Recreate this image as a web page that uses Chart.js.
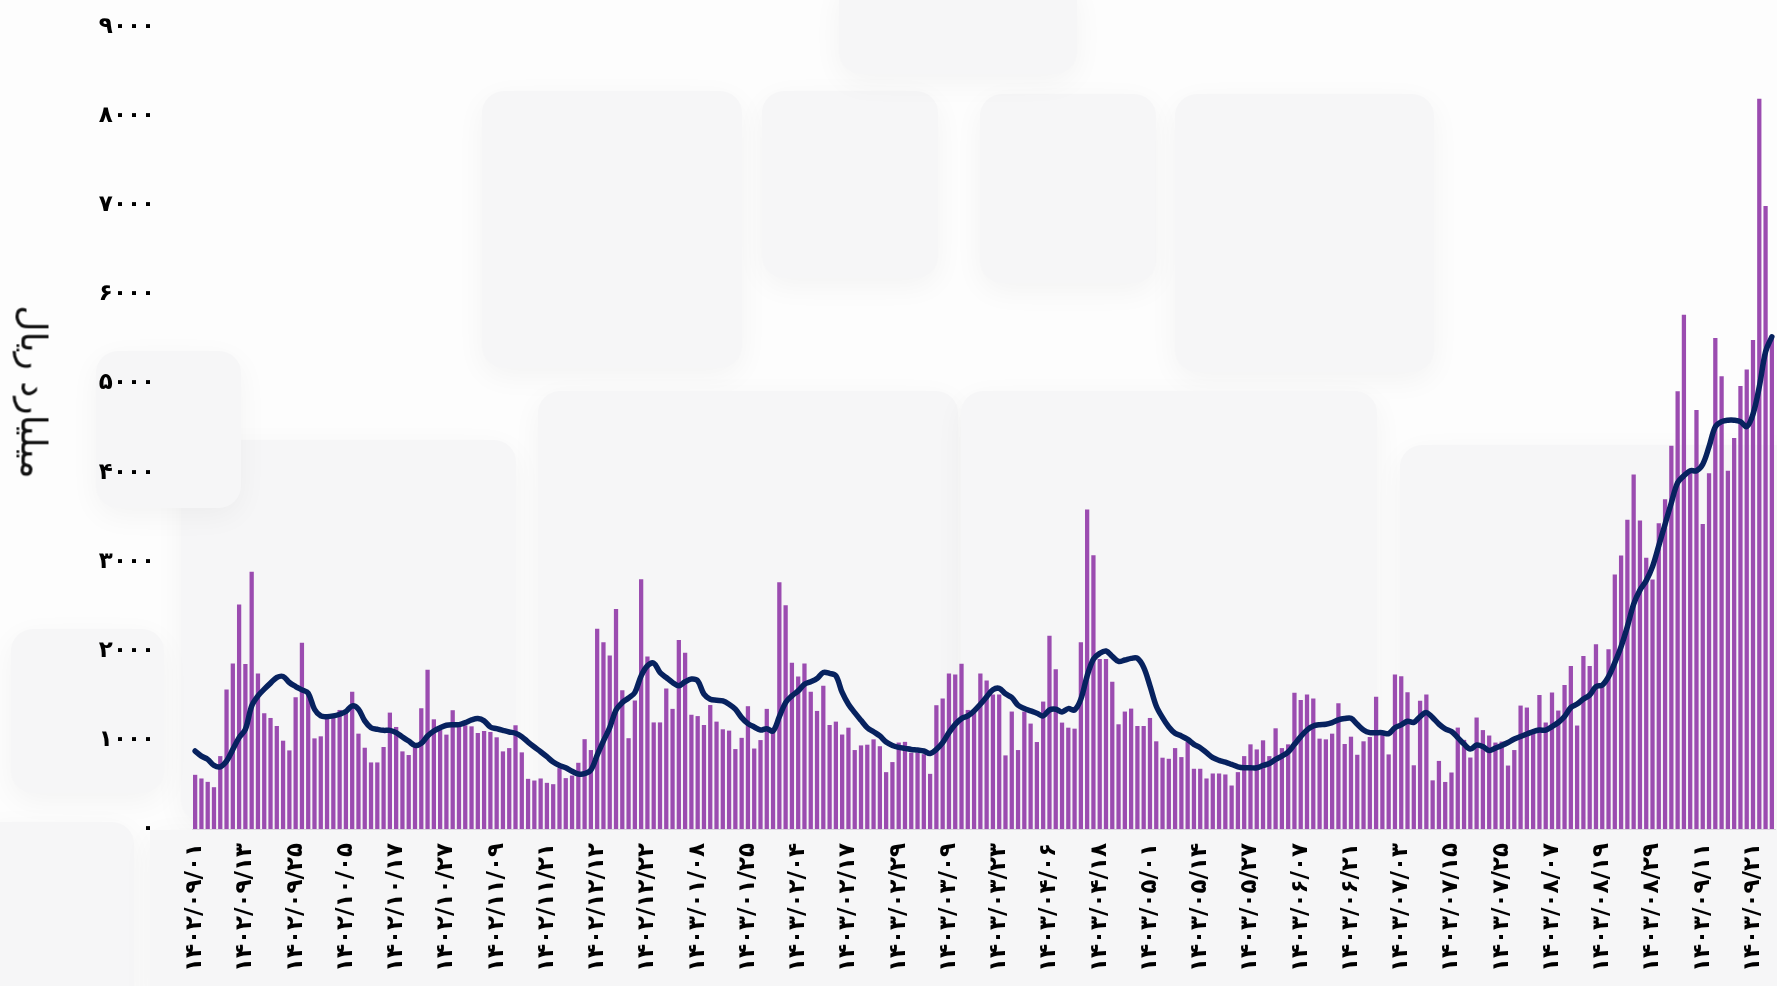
<!DOCTYPE html>
<html lang="fa">
<head>
<meta charset="utf-8">
<title>chart</title>
<script src="https://cdn.jsdelivr.net/npm/chart.js@4.4.1/dist/chart.umd.min.js"></script>
<style>
  html, body { margin: 0; padding: 0; background: #fff; overflow: hidden; }
  #wrap { position: relative; width: 1777px; height: 986px; overflow: hidden; background: #fdfdfd; }
  .box { position: absolute; background: #f6f6f7; border-radius: 22px; box-shadow: 0 8px 30px rgba(0,0,0,0.045); }
  #chartBox { position: absolute; left: 0; top: 0; width: 1777px; height: 986px; }
  #yTitle { position: absolute; left: 34px; top: 392px; transform: translate(-50%, -50%) rotate(90deg);
            font-family: "DejaVu Sans", sans-serif; font-size: 36px; white-space: nowrap; color: #111; direction: rtl; }
</style>
</head>
<body>
<div id="wrap">
  <div class="box" style="left:482px;top:91px;width:260px;height:277px"></div>
  <div class="box" style="left:762px;top:91px;width:176px;height:187px"></div>
  <div class="box" style="left:980px;top:94px;width:176px;height:189px"></div>
  <div class="box" style="left:1175px;top:94px;width:259px;height:278px"></div>
  <div class="box" style="left:839px;top:-20px;width:238px;height:94px"></div>
  <div class="box" style="left:538px;top:391px;width:420px;height:460px"></div>
  <div class="box" style="left:961px;top:391px;width:416px;height:460px"></div>
  <div class="box" style="left:181px;top:440px;width:335px;height:382px"></div>
  <div class="box" style="left:1400px;top:445px;width:400px;height:371px"></div>
  <div class="box" style="left:96px;top:351px;width:145px;height:157px"></div>
  <div class="box" style="left:11px;top:629px;width:153px;height:164px"></div>
  <div class="box" style="left:-20px;top:822px;width:154px;height:190px"></div>
  <div class="box" style="left:150px;top:830px;width:1650px;height:180px;border-radius:0"></div>
  <div id="chartBox"><canvas id="myChart"></canvas></div>
  <div id="yTitle">میلیارد ریال</div>
</div>
<script>
const tickLabels = ['۱۴۰۲/۰۹/۰۱','۱۴۰۲/۰۹/۱۳','۱۴۰۲/۰۹/۲۵','۱۴۰۲/۱۰/۰۵','۱۴۰۲/۱۰/۱۷','۱۴۰۲/۱۰/۲۷',
  '۱۴۰۲/۱۱/۰۹','۱۴۰۲/۱۱/۲۱','۱۴۰۲/۱۲/۱۲','۱۴۰۲/۱۲/۲۲','۱۴۰۳/۰۱/۰۸','۱۴۰۳/۰۱/۲۵',
  '۱۴۰۳/۰۲/۰۴','۱۴۰۳/۰۲/۱۷','۱۴۰۳/۰۲/۲۹','۱۴۰۳/۰۳/۰۹','۱۴۰۳/۰۳/۲۳','۱۴۰۳/۰۴/۰۶',
  '۱۴۰۳/۰۴/۱۸','۱۴۰۳/۰۵/۰۱','۱۴۰۳/۰۵/۱۴','۱۴۰۳/۰۵/۲۷','۱۴۰۳/۰۶/۰۷','۱۴۰۳/۰۶/۲۱',
  '۱۴۰۳/۰۷/۰۳','۱۴۰۳/۰۷/۱۵','۱۴۰۳/۰۷/۲۵','۱۴۰۳/۰۸/۰۷','۱۴۰۳/۰۸/۱۹','۱۴۰۳/۰۸/۲۹',
  '۱۴۰۳/۰۹/۱۱','۱۴۰۳/۰۹/۲۱'];
const tickEvery = 8;

const yTickLabels = ['۰','۱۰۰۰','۲۰۰۰','۳۰۰۰','۴۰۰۰','۵۰۰۰','۶۰۰۰','۷۰۰۰','۸۰۰۰','۹۰۰۰'];

// daily value (bars)
const barValues = [
  608,567,529,469,818,1565,1858,2519,1851,2887,1746,1299,
  1246,1156,991,882,1479,2091,1530,1017,1040,1290,1270,1336,
  1330,1539,1070,912,747,747,920,1306,1145,871,830,931,
  1355,1787,1231,1111,1059,1333,1164,1164,1152,1077,1100,1089,
  1029,871,908,1164,860,563,544,567,518,503,683,571,
  600,743,1008,886,2247,2095,1948,2470,1558,1019,1441,2802,
  1937,1196,1196,1578,1348,2121,1978,1282,1267,1167,1391,1205,
  1119,1104,897,1023,1378,903,998,1348,1092,2770,2510,1866,
  1710,1856,1539,1325,1608,1167,1205,1060,1137,886,938,946,
  1006,929,638,751,970,978,856,856,840,619,1389,1464,
  1746,1734,1854,1336,1306,1746,1667,1509,1509,826,1318,886,
  1318,1183,976,1430,2170,1794,1194,1137,1126,2095,3585,3071,
  1907,1907,1652,1175,1318,1351,1156,1156,1246,984,800,788,
  908,807,976,676,676,567,623,623,612,488,638,818,
  950,893,995,818,1130,908,950,1528,1449,1509,1464,1014,
  1006,1070,1411,954,1036,833,984,1032,1483,1062,837,1734,
  1713,1535,715,1440,1508,546,764,528,634,1138,1000,802,
  1251,1110,1049,970,981,712,886,1385,1363,1094,1503,1195,
  1531,1329,1615,1828,1161,1940,1828,2072,1600,2018,2855,3070,
  3470,3977,3463,3045,2800,3430,3700,4302,4912,5770,4015,4702,
  3422,3993,5510,5080,4021,4388,4972,5157,5488,8196,6991,5500
];

// moving average (line)
const lineValues = [
  875,818,781,713,698,762,893,1025,1119,1381,1494,1569,
  1637,1700,1712,1644,1599,1562,1524,1344,1269,1261,1269,1288,
  1318,1381,1344,1213,1137,1119,1107,1107,1081,1032,987,938,
  961,1044,1100,1137,1164,1171,1171,1194,1224,1239,1213,1145,
  1126,1107,1089,1074,1036,976,920,867,811,751,713,687,
  648,618,621,662,828,988,1138,1335,1419,1470,1532,1719,
  1832,1862,1757,1700,1644,1607,1652,1682,1663,1513,1457,1445,
  1438,1400,1344,1250,1183,1145,1111,1126,1100,1260,1419,1494,
  1550,1625,1652,1689,1757,1746,1719,1532,1400,1306,1220,1137,
  1092,1044,976,938,916,905,893,886,875,848,893,969,
  1081,1175,1239,1269,1325,1400,1483,1562,1578,1517,1475,1389,
  1351,1325,1299,1269,1336,1344,1314,1351,1336,1457,1719,1907,
  1971,1997,1937,1881,1896,1915,1915,1813,1607,1381,1250,1145,
  1074,1044,1006,950,912,856,800,770,751,725,698,687,
  687,687,713,736,781,818,863,950,1036,1111,1156,1171,
  1175,1194,1224,1239,1243,1175,1111,1081,1081,1081,1070,1137,
  1168,1209,1197,1261,1306,1250,1177,1124,1094,1026,953,897,
  942,925,880,908,937,970,1009,1038,1066,1094,1110,1110,
  1150,1195,1262,1363,1402,1458,1503,1598,1615,1710,1867,2047,
  2271,2524,2681,2787,2944,3180,3421,3662,3886,3965,4021,4021,
  4094,4290,4514,4571,4587,4587,4571,4514,4655,4963,5356,5524
];

// one label per bar, only every 8th one is shown
const categories = barValues.map((v, i) => (i % tickEvery === 0 ? (tickLabels[i / tickEvery] || '') : ''));

const ctx = document.getElementById('myChart').getContext('2d');

new Chart(ctx, {
  data: {
    labels: categories,
    datasets: [
      {
        type: 'line',
        data: lineValues,
        borderColor: '#07225f',
        borderWidth: 5.5,
        pointRadius: 0,
        tension: 0.35,
        borderCapStyle: 'round',
        borderJoinStyle: 'round',
        order: 0
      },
      {
        type: 'bar',
        data: barValues,
        backgroundColor: '#9b4cb0',
        barPercentage: 0.68,
        categoryPercentage: 1.0,
        order: 1
      }
    ]
  },
  options: {
    responsive: true,
    maintainAspectRatio: false,
    devicePixelRatio: 1,
    animation: false,
    layout: { padding: { top: 27, right: 2, bottom: 0, left: 0 } },
    plugins: { legend: { display: false }, tooltip: { enabled: false } },
    scales: {
      x: {
        grid: { display: false },
        border: { display: true, color: 'rgba(190,180,200,0.5)' },
        afterFit: function(scale) {
          scale.height = 157;
          scale.paddingLeft = 0;
          scale.paddingRight = 0;
        },
        ticks: {
          autoSkip: false,
          minRotation: 90,
          maxRotation: 90,
          padding: 6,
          color: '#000',
          font: { family: 'DejaVu Sans', size: 23, weight: 'bold' }
        }
      },
      y: {
        min: 0,
        max: 9000,
        grid: { display: false, drawTicks: false },
        border: { display: false },
        afterFit: function(scale) {
          scale.width = 192;
          scale.paddingTop = 0;
          scale.paddingBottom = 0;
        },
        ticks: {
          stepSize: 1000,
          padding: 37,
          color: '#000',
          font: { family: 'DejaVu Sans', size: 23, weight: 'bold' },
          callback: function(value, index) { return yTickLabels[index]; }
        }
      }
    }
  }
});
</script>
</body>
</html>
